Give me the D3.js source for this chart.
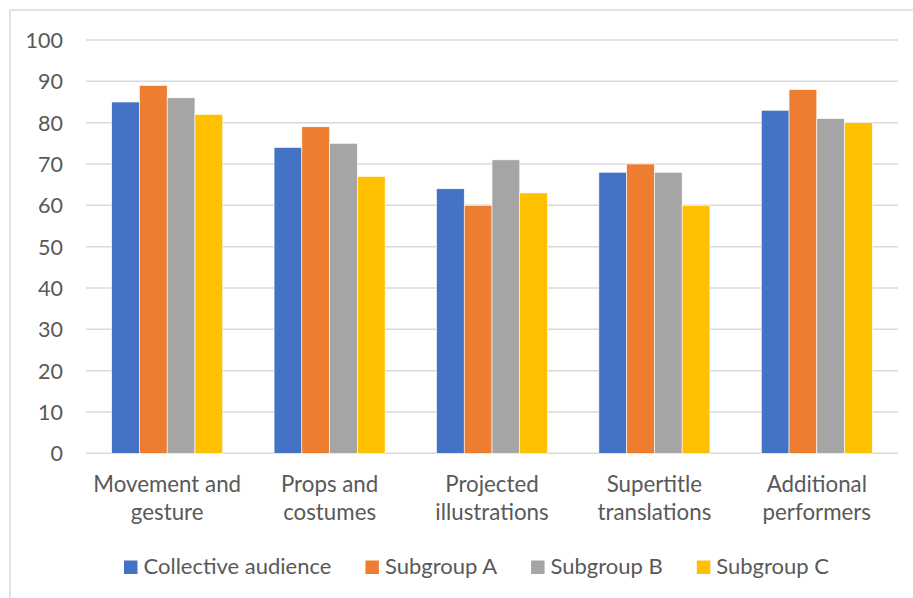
<!DOCTYPE html>
<html><head><meta charset="utf-8">
<script src="https://cdn.jsdelivr.net/npm/d3@7"></script>
<style>body{margin:0;background:#fff}svg{display:block}text{font-family:Lato,"Noto Sans",sans-serif;fill:#595959}</style>
</head><body><svg id="c" width="913" height="598"></svg>
<script>
const categories = [["Movement and","gesture"],["Props and","costumes"],["Projected","illustrations"],["Supertitle","translations"],["Additional","performers"]];
const seriesNames = ["Collective audience","Subgroup A","Subgroup B","Subgroup C"];
const collective = [85,74,64,68,83];
const subA = [89,79,60,70,88];
const subB = [86,75,71,68,81];
const subC = [82,67,63,60,80];
const yTicks = [0,10,20,30,40,50,60,70,80,90,100];
const colors = ["#4472C4","#ED7D31","#A5A5A5","#FFC000"];
const series = [collective, subA, subB, subC];

(function(){
const svg = d3.select("#c");
svg.append("rect").attr("x",10).attr("y",10).attr("width",920).attr("height",600)
  .attr("fill","#fff").attr("stroke","#d9d9d9").attr("stroke-width",1.5);

const pL=86,pR=898,pT=40,pB=453.3;
const y = d3.scaleLinear().domain([0,100]).range([pB,pT]);
const x0 = d3.scaleBand().domain(d3.range(categories.length)).range([pL,pR]).paddingInner(0).paddingOuter(0);
const inner = 4/(4+1.85);
const x1 = d3.scaleBand().domain(d3.range(series.length)).range([0,x0.bandwidth()*inner]);
const off = x0.bandwidth()*(1-inner)/2;

svg.append("g").selectAll("line").data(yTicks).join("line")
  .attr("x1",pL).attr("x2",pR).attr("y1",d=>y(d)).attr("y2",d=>y(d))
  .attr("stroke","#d9d9d9").attr("stroke-width",1.5);

svg.append("g").selectAll("text").data(yTicks).join("text")
  .attr("x",63).attr("y",d=>y(d)).attr("text-anchor","end").attr("dominant-baseline","central")
  .attr("font-size",21.5).text(d=>d);

const g = svg.append("g");
series.forEach((s,si)=>{
  g.append("g").selectAll("rect").data(s).join("rect")
    .attr("x",(d,i)=>x0(i)+off+x1(si)).attr("width",x1.bandwidth())
    .attr("y",d=>y(d)).attr("height",d=>y(0)-y(d))
    .attr("fill",colors[si]).attr("stroke","#fff").attr("stroke-width",0.6);
});

const cl = svg.append("g").selectAll("text").data(categories).join("text")
  .attr("x",(d,i)=>x0(i)+x0.bandwidth()/2).attr("y",492).attr("text-anchor","middle").attr("font-size",22.3);
cl.each(function(d){
  const t=d3.select(this);
  d.forEach((line,k)=>t.append("tspan").attr("x",t.attr("x")).attr("dy",k?28:0).text(line));
});

const lg = svg.append("g");
const items = lg.selectAll("g").data(seriesNames).join("g");
items.append("rect").attr("width",13.5).attr("height",13.5).attr("y",560.5).attr("fill",(d,i)=>colors[i]);
items.append("text").attr("x",19.5).attr("y",574).attr("font-size",22).text(d=>d);
let xs=0; const pos=[];
items.each(function(d,i){ const w=d3.select(this).select("text").node().getComputedTextLength(); pos.push(xs); xs+=19.5+w+34; });
const total = xs-34; const start = 476.5-total/2;
items.attr("transform",(d,i)=>`translate(${start+pos[i]},0)`);
})();
</script></body></html>
